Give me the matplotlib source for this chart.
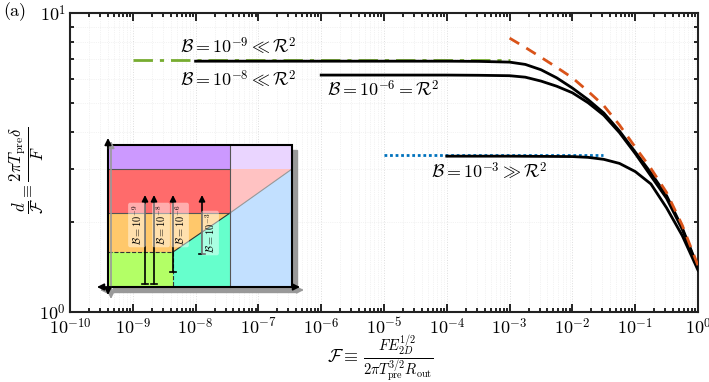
import matplotlib
matplotlib.use("Agg")
import matplotlib.pyplot as plt
import numpy as np
from matplotlib.patches import Polygon, Rectangle
from matplotlib.ticker import FuncFormatter, LogLocator, NullFormatter

plt.rcParams['mathtext.fontset'] = 'cm'
plt.rcParams['font.family'] = ['DejaVu Serif']

# ---------------- data ----------------
# curve for B = 1e-9 / 1e-8 (upper plateau)
F_A = [1e-8, 1e-6, 1e-4, 3.2e-4, 1e-3, 1.78e-3, 3.16e-3, 5.62e-3, 1e-2, 1.78e-2, 3.16e-2,
       5.62e-2, 1e-1, 1.78e-1, 3.16e-1, 5.62e-1, 1.0]
D_A = [6.90, 6.90, 6.90, 6.89, 6.85, 6.73, 6.46, 6.07, 5.61, 5.13, 4.63,
       4.03, 3.43, 2.92, 2.45, 1.91, 1.41]
# curve for B = 1e-6
F_B = [1e-6, 1e-4, 3.2e-4, 1e-3, 1.78e-3, 3.16e-3, 5.62e-3, 1e-2, 1.78e-2, 3.16e-2,
       5.62e-2, 1e-1, 1.78e-1, 3.16e-1, 5.62e-1, 1.0]
D_B = [6.20, 6.20, 6.19, 6.17, 6.10, 5.92, 5.69, 5.41, 5.01, 4.55,
       3.98, 3.39, 2.85, 2.40, 1.89, 1.40]
# curve for B = 1e-3
F_C = [1e-4, 1e-3, 1e-2, 1.78e-2, 3.16e-2, 5.62e-2, 1e-1, 1.78e-1, 3.16e-1, 5.62e-1, 1.0]
D_C = [3.32, 3.32, 3.31, 3.29, 3.24, 3.14, 2.95, 2.68, 2.23, 1.80, 1.38]
# asymptotes
F_green = [1e-9, 1e-3]
D_green = [6.95, 6.95]
F_blue = [1e-5, 3.1e-2]
D_blue = [3.35, 3.35]
F_red = [1e-3, 1.78e-3, 3.16e-3, 5.62e-3, 1e-2, 1.78e-2, 3.16e-2, 5.62e-2, 1e-1,
         1.78e-1, 3.16e-1, 5.62e-1, 1.0]
D_red = [8.24, 7.67, 7.11, 6.58, 6.07, 5.47, 4.90, 4.22, 3.56, 3.02, 2.51, 1.95, 1.43]

x_tick_exps = list(range(-10, 1))
y_tick_exps = [0, 1]

# inset schematic (pixel coordinates of the figure)
inset_box = [108, 145, 292, 287]          # x0, ytop, x1, ybottom
band_y = [169, 213, 252]
split_x = [173, 230]
arrow_x = [145, 154, 173, 202]
arrow_bottom = [284, 284, 272, 254]
arrow_top = 195
arrow_labels = [r'$\mathcal{B}=10^{-9}$', r'$\mathcal{B}=10^{-8}$',
                r'$\mathcal{B}=10^{-6}$', r'$\mathcal{B}=10^{-3}$']
label_x = [137, 161, 180, 210]
label_y = [225, 225, 225, 233]

W, H = 709, 382
fig = plt.figure(figsize=(W / 100, H / 100), dpi=100)
ax = fig.add_axes([70 / W, 1 - 312 / H, 628 / W, 299 / H])

ax.plot(F_green, D_green, color='#77AC30', lw=2, ls=(0, (7, 2.5, 1.5, 2.5)), zorder=3)
ax.plot(F_blue, D_blue, color='#0072BD', lw=2, ls=(0, (1, 1)), zorder=3)
ax.plot(F_A, D_A, color='black', lw=2, zorder=4)
ax.plot(F_B, D_B, color='black', lw=2, zorder=4)
ax.plot(F_C, D_C, color='black', lw=2, zorder=4)
ax.plot(F_red, D_red, color='#D95319', lw=2, ls=(0, (4, 3)), zorder=5)

ax.set_xscale('log')
ax.set_yscale('log')
ax.set_xlim(1e-10, 1)
ax.set_ylim(1, 10)
ax.set_xticks([10.0 ** e for e in x_tick_exps])
ax.set_yticks([10.0 ** e for e in y_tick_exps])
ax.xaxis.set_minor_locator(LogLocator(base=10, subs=np.arange(2, 10), numticks=20))
ax.xaxis.set_minor_formatter(NullFormatter())
ax.yaxis.set_minor_formatter(NullFormatter())
fmt = FuncFormatter(lambda v, p: r'$10^{%d}$' % int(round(np.log10(v))))
ax.xaxis.set_major_formatter(fmt)
ax.yaxis.set_major_formatter(fmt)
ax.tick_params(which='both', direction='in', top=True, right=True, labelsize=13, width=1.2)
ax.tick_params(which='major', length=6)
ax.tick_params(which='minor', length=3)
ax.tick_params(axis='x', pad=4)
ax.tick_params(axis='y', pad=3)
ax.grid(True, which='major', color='#dddddd', lw=0.7, ls=':')
ax.grid(True, which='minor', color='#e8e8e8', lw=0.5, ls=':')
for s in ax.spines.values():
    s.set_linewidth(1.5)
    s.set_color('#222222')

# x label: "F ≡" and the fraction as two pieces
fig.text(358 / W, 1 - 357 / H, r'$\mathcal{F}\equiv$', ha='right', va='center', fontsize=13)
fig.text(363 / W, 1 - 358 / H,
         r'$\frac{FE_{2D}^{1/2}}{2\pi T_{\rm pre}^{3/2}R_{\rm out}}$',
         ha='left', va='center', fontsize=15)
fig.text(27 / W, 1 - 170 / H,
         r'$\dfrac{d}{\mathcal{F}}\equiv\dfrac{2\pi T_{\rm pre}\delta}{F}$',
         ha='center', va='center', rotation=90, fontsize=12)
fig.text(3 / W, 1 - 12 / H, '(a)', ha='left', va='center', fontsize=13,
         family='cmr10')

# overlay for annotations / inset
ov = fig.add_axes([0, 0, 1, 1], zorder=10)
ov.set_xlim(0, W)
ov.set_ylim(H, 0)
ov.axis('off')
ov.patch.set_alpha(0)

ov.text(238, 47, r'$\mathcal{B}=10^{-9}\ll\mathcal{R}^2$', ha='center', va='center', fontsize=13)
ov.text(238, 80, r'$\mathcal{B}=10^{-8}\ll\mathcal{R}^2$', ha='center', va='center', fontsize=13)
ov.text(383, 90, r'$\mathcal{B}=10^{-6}=\mathcal{R}^2$', ha='center', va='center', fontsize=13)
ov.text(489, 172, r'$\mathcal{B}=10^{-3}\gg\mathcal{R}^2$', ha='center', va='center', fontsize=13)

x0, yt, x1, yb = inset_box
b1, b2, b3 = band_y
sg, sv = split_x
# shadow
ov.add_patch(Rectangle((x0 + 5, yt + 5), x1 - x0, yb - yt, color='#999999', zorder=1))
# regions
ov.add_patch(Rectangle((x0, yt), sv - x0, b1 - yt, color='#CC99FF', lw=0, zorder=2))
ov.add_patch(Rectangle((sv, yt), x1 - sv, b1 - yt, color='#EAD5FF', lw=0, zorder=2))
ov.add_patch(Rectangle((x0, b1), sv - x0, b2 - b1, color='#FF6B6B', lw=0, zorder=2))
ov.add_patch(Polygon([(sv, b1), (x1, b1), (sv, b2)], color='#FFC2C2', lw=0, zorder=2))
ov.add_patch(Polygon([(sv, b2), (x1, b1), (x1, yb), (sv, yb)], color='#C2E0FF', lw=0, zorder=2))
ov.add_patch(Polygon([(x0, b2), (sv, b2), (sg, b3), (x0, b3)], color='#FFC86B', lw=0, zorder=2))
ov.add_patch(Polygon([(sg, b3), (sv, b2), (sv, yb), (sg, yb)], color='#66FFCC', lw=0, zorder=2))
ov.add_patch(Rectangle((x0, b3), sg - x0, yb - b3, color='#B3FF66', lw=0, zorder=2))
# boundaries
ov.plot([x0, sv], [b1, b1], color='#555555', lw=0.8, zorder=3)
ov.plot([x0, sv], [b2, b2], color='#555555', lw=0.8, zorder=3)
ov.plot([x0, sg], [b3, b3], color='#333333', lw=0.8, ls='--', zorder=3)
ov.plot([sg, sg], [b3, yb], color='#333333', lw=0.8, ls='--', zorder=3)
ov.plot([sg, sv], [b3, b2], color='#333333', lw=0.8, zorder=3)
ov.plot([sv, x1], [b2, b1], color='#999999', lw=0.8, zorder=3)
ov.plot([sv, sv], [yt, yb], color='#555555', lw=0.8, zorder=3)
ov.add_patch(Rectangle((x0, yt), x1 - x0, yb - yt, fill=False, ec='black', lw=1.5, zorder=4))
# schematic axes arrows (shadow then black)
ov.annotate('', xy=(x1 + 12, yb + 3), xytext=(x0 - 8, yb + 3),
            arrowprops=dict(arrowstyle='<|-|>', color='#999999', lw=1.2,
                            mutation_scale=10, shrinkA=0, shrinkB=0), zorder=4)
ov.annotate('', xy=(x0 + 3, yt - 4), xytext=(x0 + 3, yb + 12),
            arrowprops=dict(arrowstyle='<|-|>', color='#999999', lw=1.2,
                            mutation_scale=10, shrinkA=0, shrinkB=0), zorder=4)
ov.annotate('', xy=(x1 + 8, yb), xytext=(x0 - 11, yb),
            arrowprops=dict(arrowstyle='<|-|>', color='black', lw=1.2,
                            mutation_scale=10, shrinkA=0, shrinkB=0), zorder=5)
ov.annotate('', xy=(x0, yt - 7), xytext=(x0, yb + 8),
            arrowprops=dict(arrowstyle='<|-|>', color='black', lw=1.2,
                            mutation_scale=10, shrinkA=0, shrinkB=0), zorder=5)
# B arrows
for xa, yb_a in zip(arrow_x, arrow_bottom):
    ov.annotate('', xy=(xa, arrow_top), xytext=(xa, yb_a),
                arrowprops=dict(arrowstyle='-|>', color='black', lw=1.2,
                                mutation_scale=9, shrinkA=0, shrinkB=0), zorder=6)
    ov.plot([xa - 3, xa + 3], [yb_a, yb_a], color='black', lw=1.2, zorder=6)
for lx, ly, lt in zip(label_x, label_y, arrow_labels):
    ov.text(lx, ly, lt, rotation=90, ha='center', va='center', fontsize=7.5, zorder=7,
            bbox=dict(boxstyle='round,pad=0.2', fc='white', ec='none', alpha=0.45))

fig.savefig('out.png', dpi=100)
